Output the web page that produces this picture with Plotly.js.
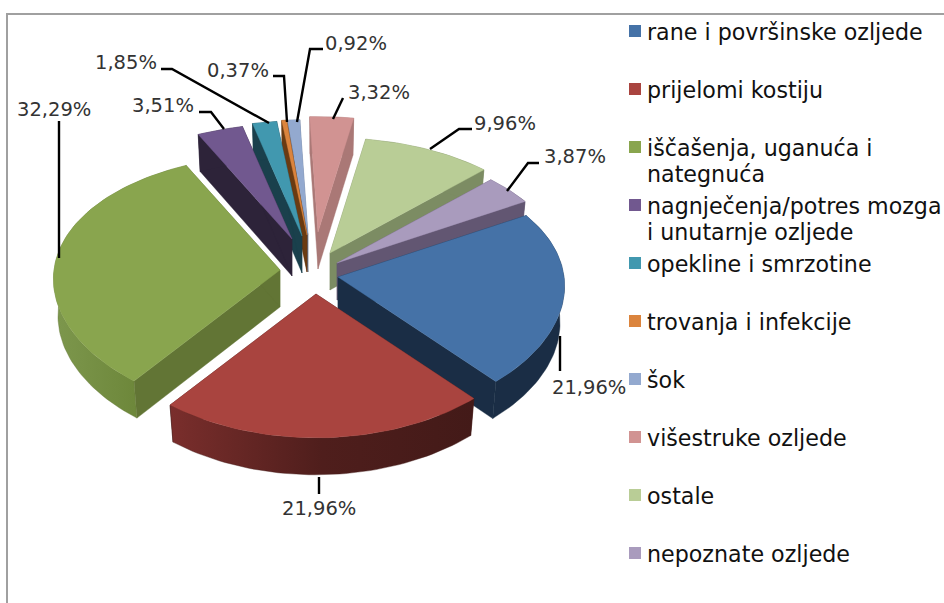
<!DOCTYPE html>
<html><head><meta charset="utf-8">
<script src="https://cdn.plot.ly/plotly-3.0.0.min.js"></script>
<style>html,body{margin:0;padding:0;background:#fff}#c{width:944px;height:603px}</style>
</head><body><div id="c"></div>
<script>
// ---- data ----
const categories = ["rane i površinske ozljede","prijelomi kostiju","iščašenja, uganuća i<br>nategnuća","nagnječenja/potres mozga<br>i unutarnje ozljede","opekline i smrzotine","trovanja i infekcije","šok","višestruke ozljede","ostale","nepoznate ozljede"];
const percent = [21.96,21.96,32.29,3.51,1.85,0.37,0.92,3.32,9.96,3.87];

// ---- styles ----
const topColors  = ["#4572a7","#a9443f","#89a54e","#71588f","#4198af","#db843d","#93a9cf","#d19392","#b9cd96","#a99bbd"];
const sideColors = ["#1a2d45","#451b18","#627535","#2d2339","#1a404c","#6a3b12","#5f6f8a","#aa7876","#7c8c63","#625672"];
const arcGradients = {
  1:[[0,"#7a2e2c"],[0.5,"#4f1e1c"],[1,"#431a18"]],
  2:[[0,"#7d974d"],[0.7,"#6b8538"],[1,"#5f7433"]]
};
// explosion of each slice: where its tip sits on the drawing
const explodedTip = [[338,277],[316,294],[280,270],[292,239],[302,236],[307,235],[308,235],[318,232],[330,253],[337,263]];
const paintOrder = [7,6,5,4,3,8,9,2,0,1];

// ---- pie geometry ----
const geo = {a:226, b:128, kx:0.07, ky:0.11, depth:37, shrink:0.98, start:59.5};
const rad = d => d*Math.PI/180;
const total = percent.reduce((p,v)=>p+v,0);
function rim(tip,t,dz){
  const X = Math.sin(rad(t)), Y = Math.cos(rad(t));
  const f = dz ? geo.shrink : 1;
  return [tip[0]+f*geo.a*X/(1+geo.kx*Y), tip[1]-geo.b*Y/(1+geo.ky*Y)+dz];
}
function poly(pts,color,gradient){
  const t = {type:"scatter",mode:"lines",x:pts.map(p=>p[0]).concat(pts[0][0]),y:pts.map(p=>p[1]).concat(pts[0][1]),
    fill:"toself",fillcolor:color,line:{width:0.4,color:color},hoverinfo:"skip",showlegend:false};
  if(gradient) t.fillgradient={type:"horizontal",colorscale:gradient};
  return t;
}
let acc = geo.start; const spans = percent.map(v=>{const s=acc; acc+=v/total*360; return [s,acc];});
const traces = [];
paintOrder.forEach(i=>{
  const [s,e] = spans[i], tip=explodedTip[i], n=Math.max(2,Math.ceil((e-s)/1.5));
  const arc = dz => Array.from({length:n+1},(_,j)=>rim(tip,s+(e-s)*j/n,dz));
  const A0 = tip, A1 = [tip[0],tip[1]+geo.depth];
  const top = arc(0), bot = arc(geo.depth);
  traces.push(poly([A0,A1,rim(tip,s,geo.depth),rim(tip,s,0)],sideColors[i]));
  traces.push(poly([A0,A1,rim(tip,e,geo.depth),rim(tip,e,0)],sideColors[i]));
  traces.push(poly(top.concat(bot.slice().reverse()),sideColors[i],arcGradients[i]));
  traces.push(poly([A0].concat(top),topColors[i]));
});

// ---- leader lines and data labels ----
const labelXY = [[589,387],[319,508],[54,109],[163,105],[126,62],[238,70],[356,43],[379,92],[505,123],[575,156]];
const leaders = [
 [[560,336],[560,371]], [[319,477],[319,494]], [[59,121],[59,258]],
 [[199,112],[211,112],[224,129]], [[161,69],[172,69],[269,123]],
 [[273,76],[284,76],[287,122]], [[323,49],[310,49],[297,122]],
 [[343,98],[333,119]], [[472,129],[459,129],[430,149]], [[539,163],[528,163],[507,191]]
];
leaders.forEach(l=>traces.push({type:"scatter",mode:"lines",x:l.map(p=>p[0]),y:l.map(p=>p[1]),
  line:{color:"#000",width:2.4},hoverinfo:"skip",showlegend:false}));
const annotations = percent.map((v,i)=>({x:labelXY[i][0],y:labelXY[i][1],xref:"x",yref:"y",showarrow:false,
  text:v.toFixed(2).replace(".",",")+"%",font:{family:"DejaVu Sans",size:19.5,color:"#333"},xanchor:"center",yanchor:"middle"}));

// ---- legend ----
const legendX = 635, legendY0 = 31, legendStep = 58, legendLine = 26;
const legendYs = categories.map((_,i)=>legendY0+legendStep*i);
traces.push({type:"scatter",mode:"markers",x:categories.map(()=>legendX),y:legendYs,
  marker:{symbol:"square",size:12,color:topColors,line:{width:0}},hoverinfo:"skip",showlegend:false});
categories.forEach((c,i)=>c.split("<br>").forEach((line,j)=>annotations.push({
  x:legendX+10,y:legendYs[i]+1+j*legendLine,xref:"x",yref:"y",showarrow:false,text:line,align:"left",
  font:{family:"DejaVu Sans",size:22.2,color:"#111"},xanchor:"left",yanchor:"middle"})));

// ---- frame ----
const shapes = [{type:"path",xref:"x",yref:"y",path:"M7,603 L7,14 L944,14",line:{color:"#a0a0a0",width:2}}];

Plotly.newPlot("c",traces,{
  width:944,height:603,margin:{l:0,r:0,t:0,b:0},paper_bgcolor:"#fff",plot_bgcolor:"#fff",
  xaxis:{range:[0,944],visible:false,fixedrange:true},
  yaxis:{range:[603,0],visible:false,fixedrange:true},
  shapes,annotations,showlegend:false
},{displayModeBar:false,staticPlot:true});
</script></body></html>
